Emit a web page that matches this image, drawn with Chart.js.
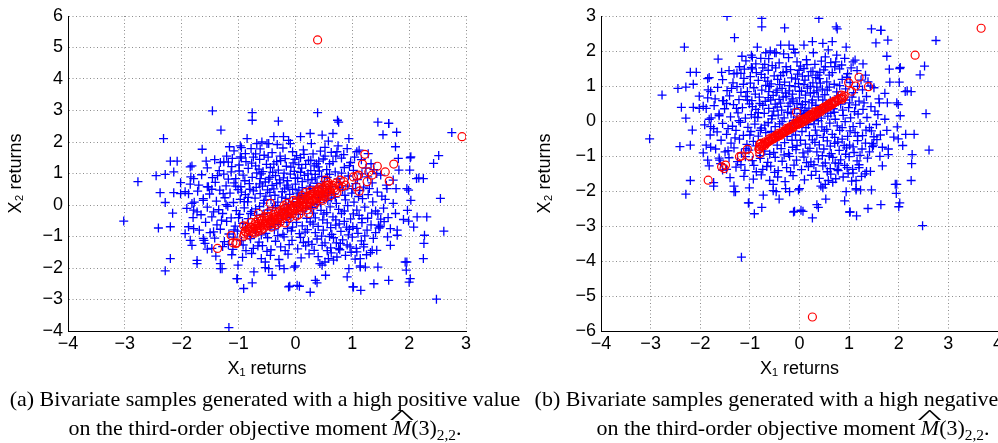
<!DOCTYPE html>
<html>
<head>
<meta charset="utf-8">
<script src="https://cdn.jsdelivr.net/npm/chart.js@4"></script>
<style>
  html, body { margin: 0; padding: 0; background: #fff; }
  body { width: 998px; height: 443px; overflow: hidden; position: relative; }
  canvas { position: absolute; top: 0; }
  #chartA { left: 0; }
  #chartB { left: 500px; }
  .caption {
    position: absolute; top: 384px; transform: translateX(-50%);
    font-family: "Liberation Serif", "Times New Roman", serif; font-size: 22px;
    line-height: 29px; text-align: center; white-space: nowrap; color: #000;
  }
  .mh { position: relative; font-style: italic; }
  .mh .hat { position: absolute; left: 0; right: 0; top: -0.6em; text-align: center; font-style: normal; transform: scaleX(2.4); }
  .caption sub { font-size: 0.7em; vertical-align: -0.3em; line-height: 0; }
</style>
</head>
<body>
<canvas id="chartA" width="490" height="400"></canvas>
<canvas id="chartB" width="520" height="400"></canvas>
<div class="caption" style="left:265px">(a) Bivariate samples generated with a high positive value<br>on the third-order objective moment <span class="mh">M<span class="hat">^</span></span>(3)<sub>2,2</sub>.</div>
<div class="caption" style="left:793px">(b) Bivariate samples generated with a high negative value<br>on the third-order objective moment <span class="mh">M<span class="hat">^</span></span>(3)<sub>2,2</sub>.</div>
<script>
// blue samples (same cloud in both panels)
const bluePoints = [
  // outer ring
  [-1.46,2.99],[-0.76,2.93],[-0.76,2.69],[0.39,2.93],[-0.30,2.66],[-1.31,2.38],[-2.32,2.11],[0.74,2.69],[0.76,2.63],[1.45,2.63],
  [1.64,2.59],[1.54,2.23],[1.78,2.31],[2.75,2.30],[2.52,1.57],[2.43,1.32],[2.03,1.53],[2.01,1.11],[2.13,0.84],[2.25,0.84],
  [2.55,0.21],[2.61,-0.83],[2.25,-1.70],[2.26,-1.22],[2.27,-0.96],[2.14,-0.38],[2.31,-0.38],[1.93,-1.81],[1.95,-2.07],[2.0,-2.45],
  [2.48,-2.99],[1.45,-1.97],[1.38,-2.50],[1.15,-2.71],[1.01,-2.60],[0.94,-2.02],[0.91,-2.28],[0.53,-2.23],[0.47,-1.91],[0.38,-2.47],
  [0.26,-2.77],[0.07,-2.58],[-0.10,-2.58],[0.0,-1.93],[-0.20,-2.02],[-0.28,-1.93],[-0.53,-1.99],[-0.73,-2.12],[-0.76,-2.47],[-0.91,-2.65],
  [-1.02,-2.34],[-1.01,-1.91],[-1.17,-3.89],[-1.32,-2.02],[-1.32,-1.86],[-1.73,-1.76],[-1.73,-1.86],[-2.20,-1.70],[-2.29,-2.09],[-3.02,-0.51],
  [-2.77,0.74],[-2.41,-0.73],[-2.20,-0.69],[-2.16,-0.26],[-2.29,0.08],[-2.38,0.39],[-2.14,0.39],[-2.45,0.93],[-2.29,0.97],[-2.20,1.39],
  [-2.08,1.39],[-2.14,1.05],[-2.02,0.71],[-1.84,0.89],[-1.82,1.24],[-1.64,1.77],[-1.57,1.39],[-1.32,1.35],[-1.16,1.85],[-0.97,1.88],
  [-0.85,2.11],[-0.68,1.95],[-0.50,1.95],[-0.38,2.17],[-0.21,2.17],[-0.09,1.95],[0.09,2.17],[0.26,2.27],[0.47,2.22],[0.66,2.27],
  [0.94,2.11],[0.91,1.79],[0.73,1.69],[1.08,1.69],[1.76,1.85],[1.81,1.48],[1.43,1.0],[1.72,0.79],[1.82,1.11],[1.77,0.52],
  [1.61,0.52],[1.99,0.47],[2.03,0.15],[1.97,-0.17],[1.90,-0.46],[2.08,-0.70],[1.79,-0.96],[1.67,-0.75],[1.49,-0.69],[1.43,-1.44],
  [1.32,-1.51],[1.14,-1.93],[1.14,-1.97],[1.20,-1.33],[0.96,-1.33],[0.79,-1.22],[0.58,-1.70],[0.73,-1.65],[-2.02,0.36],[-1.88,0.36],
  [-1.82,0.05],[-1.91,-0.11],[-1.94,-0.91],[-1.85,-1.12],[-1.82,-1.28],[-1.61,-1.12],[-1.47,-1.38],[-0.59,2.0],[-0.47,1.95],[-1.11,1.48],
  [-0.97,1.53],[-1.26,1.37],[-1.85,1.21],[-1.79,0.84],[-1.94,0.42],[-1.70,0.63],[-1.53,0.58],[-1.62,0.15],[-1.79,-0.16],[-1.73,-0.22],
  [-1.88,-0.69],[-1.79,-0.75],[-1.62,-1.06],[-1.59,-1.22],[-1.44,-0.85],[-1.29,-2.02],[-1.03,-2.34],[-0.53,-1.81],[-0.47,-2.02],[-0.41,-2.23],
  [-0.12,-2.6],[0.03,-2.55],[-0.02,-1.97],[0.35,-2.39],[0.43,-1.86],[0.52,-1.81],[0.67,-1.75],[0.76,-1.38],[1.08,-1.49],[1.14,-1.70],
  [1.23,-1.97],[1.02,-2.6],[1.64,-2.39],[1.96,-1.81],[2.02,-2.34],[1.62,-1.01],[1.67,-1.28],[1.35,-1.44],[1.76,-0.27],[1.99,-0.51],
  [1.79,-0.80],[1.46,-0.64],[1.96,0.52],[2.17,0.86],[2.02,1.50],[1.64,2.59],
  // core
  [-1.08,1.72],[-0.88,1.63],[-0.62,1.78],[-0.41,1.66],[-0.22,1.81],[-0.05,1.69],[0.14,1.75],[0.31,1.62],[0.52,1.83],[0.63,1.67],
  [0.85,1.6],[1.12,1.74],[1.28,1.63],[-0.55,1.58],[0.02,1.57],[0.44,1.71],
  [-1.42,1.44],[-1.18,1.36],[-0.95,1.49],[-0.77,1.33],[-0.63,1.45],[-0.48,1.52],[-0.33,1.38],[-0.18,1.47],[-0.04,1.34],[0.09,1.5],
  [0.23,1.41],[0.37,1.31],[0.49,1.46],[0.66,1.38],[0.81,1.49],[0.97,1.35],[1.16,1.44],[1.33,1.31],[-0.87,1.38],[0.18,1.29],[-0.27,1.55],
  [-1.55,1.18],[-1.34,1.09],[-1.12,1.22],[-0.99,1.08],[-0.83,1.16],[-0.7,1.24],[-0.57,1.06],[-0.44,1.19],[-0.3,1.11],[-0.16,1.23],
  [-0.02,1.07],[0.11,1.17],[0.27,1.09],[0.4,1.21],[0.55,1.12],[0.7,1.05],[0.86,1.19],[1.02,1.1],[1.24,1.17],[-0.64,1.14],[0.33,1.24],[-0.08,1.2],
  [-1.65,0.96],[-1.46,0.87],[-1.26,0.98],[-1.05,0.84],[-0.92,0.95],[-0.76,0.88],[-0.6,0.99],[-0.47,0.82],[-0.35,0.93],[-0.21,0.86],
  [-0.09,0.98],[0.04,0.85],[0.16,0.94],[0.29,0.81],[0.46,0.91],[0.6,0.97],[0.75,0.83],[0.93,0.92],[1.09,0.81],[1.27,0.89],[1.5,0.95],
  [-1.18,0.82],[-0.28,0.8],[0.22,0.99],
  [-1.85,0.66],[-1.41,0.72],[-1.22,0.61],[-1.08,0.7],[-0.96,0.58],[-0.81,0.68],[-0.69,0.56],[-0.53,0.73],[-0.41,0.62],[-0.27,0.7],
  [-0.13,0.57],[0.0,0.66],[0.12,0.74],[0.26,0.6],[0.38,0.69],[0.62,0.58],[0.78,0.72],[0.92,0.6],[1.06,0.68],[1.2,0.57],[1.35,0.7],
  [1.6,0.63],[-1.55,0.58],[-0.58,0.6],[0.51,0.75],
  [-1.72,0.44],[-1.51,0.35],[-1.33,0.47],[-1.15,0.38],[-1.01,0.49],[-0.88,0.33],[-0.74,0.45],[-0.62,0.36],[-0.49,0.48],[-0.36,0.31],
  [-0.23,0.42],[-0.1,0.34],[0.06,0.47],[0.19,0.37],[0.33,0.45],[0.68,0.35],[0.83,0.48],[0.99,0.38],[1.13,0.46],[1.28,0.33],[1.44,0.41],
  [-0.95,0.41],[0.11,0.3],
  [-1.62,0.2],[-1.39,0.12],[-1.24,0.23],[-1.09,0.08],[-0.97,0.18],[-0.84,0.1],[-0.71,0.22],[-0.56,0.06],[-0.43,0.17],[-0.31,0.09],
  [-0.17,0.21],[-0.05,0.11],[0.08,0.19],[0.2,0.07],[0.41,0.23],[0.57,0.14],[0.72,0.05],[0.88,0.16],[1.03,0.09],[1.18,0.2],[1.36,0.1],
  [1.58,0.18],[1.72,0.05],[-1.78,0.09],
  [-1.55,-0.07],[-1.35,-0.15],[-1.19,-0.04],[-1.04,-0.18],[-0.9,-0.09],[-0.77,-0.2],[-0.63,-0.05],[-0.49,-0.16],[-0.2,-0.12],[0.02,-0.03],
  [0.13,-0.19],[0.29,-0.08],[0.45,-0.17],[0.61,-0.06],[0.76,-0.14],[0.92,-0.02],[1.08,-0.16],[1.22,-0.07],[1.41,-0.19],[1.55,-0.1],[-0.35,-0.02],
  [-1.66,-0.31],[-1.47,-0.38],[-1.28,-0.27],[-1.13,-0.41],[-0.98,-0.3],[-0.83,-0.43],[-0.68,-0.33],[-0.08,-0.4],[0.05,-0.3],[0.35,-0.41],
  [0.5,-0.29],[0.66,-0.38],[0.81,-0.27],[0.97,-0.44],[1.12,-0.33],[1.27,-0.42],[1.45,-0.28],[1.63,-0.4],[-1.8,-0.4],[-0.25,-0.44],
  [-1.58,-0.55],[-1.38,-0.63],[-1.21,-0.52],[-1.06,-0.67],[-0.93,-0.58],[-0.45,-0.69],[-0.3,-0.62],[0.12,-0.66],[0.26,-0.54],[0.4,-0.68],
  [0.56,-0.57],[0.71,-0.64],[0.86,-0.52],[1.01,-0.69],[1.17,-0.56],[1.33,-0.63],[1.56,-0.53],[-0.05,-0.7],[-0.6,-0.95],
  [-1.69,-0.8],[-1.5,-0.88],[-1.32,-0.77],[-1.17,-0.92],[-1.02,-0.83],[-0.52,-0.9],[-0.37,-0.79],[-0.22,-0.93],[-0.07,-0.82],[0.07,-0.91],
  [0.21,-0.78],[0.35,-0.88],[0.49,-0.8],[0.64,-0.93],[0.8,-0.84],[0.95,-0.77],[1.1,-0.9],[1.26,-0.8],[1.41,-0.88],[-0.8,-0.99],
  [-1.42,-1.05],[-1.25,-1.16],[-1.09,-1.02],[-0.95,-1.13],[-0.79,-1.07],[-0.64,-1.18],[-0.49,-1.04],[-0.35,-1.15],[-0.2,-1.01],[-0.06,-1.12],
  [0.09,-1.03],[0.23,-1.17],[0.38,-1.08],[0.52,-1.2],[0.67,-1.04],[0.83,-1.11],[1.0,-1.02],[1.16,-1.14],[1.37,-1.06],
  [-1.28,-1.32],[-1.1,-1.41],[-0.92,-1.27],[-0.74,-1.38],[-0.58,-1.29],[-0.43,-1.42],[-0.26,-1.33],[-0.11,-1.26],[0.04,-1.39],[0.18,-1.3],
  [0.33,-1.44],[0.47,-1.28],[0.62,-1.36],[0.78,-1.42],[0.91,-1.27],[1.07,-1.38],[-1.55,-1.4],
  [-1.12,-1.58],[-0.93,-1.66],[-0.77,-1.54],[-0.6,-1.7],[-0.44,-1.6],[-0.29,-1.73],[-0.13,-1.56],[0.1,-1.68],[0.24,-1.55],[0.4,-1.64],
  [0.63,-1.52],[0.88,-1.6],[1.05,-1.72],[1.25,-1.58],[-1.4,-1.62],
  [-0.52,0.28],[-0.38,0.51],[-0.15,0.63],[0.03,0.38],[0.25,0.52],[0.44,0.08],[0.58,0.4],[-0.29,-0.25],[-0.12,0.02],[0.15,0.25],
  [0.32,-0.26],[0.7,0.25],[-0.7,-0.12],[-0.45,0.88],[-0.2,1.01],[0.06,1.28],[0.35,0.97],[0.6,1.31],[0.95,1.25],[-0.8,0.5],
  [-0.62,0.84],[0.78,0.55],[1.01,0.52],[0.48,-0.47],[0.2,-0.42],[-0.15,-0.55],[-0.42,-0.45],[0.9,-0.7],[0.6,-1.0],[-0.05,0.5],
  [0.27,1.42],[-0.38,1.3],[0.52,1.55],[-0.7,1.62],[-0.95,1.82],[0.75,1.88],[-0.32,1.92],[0.28,1.95],
  [-1.21,1.55],[-0.99,1.27],[-0.74,1.52],[-0.51,1.29],[-0.26,1.41],[-0.01,1.45],[0.15,1.61],[0.41,1.39],[0.71,1.55],[1.04,1.52],
  [-1.37,0.93],[-1.13,1.05],[-0.89,0.77],[-0.68,1.02],[-0.4,1.04],[-0.14,0.77],[0.09,1.04],[0.35,0.86],[0.56,0.88],[0.81,1.01],
  [1.17,0.99],[1.38,1.12],[-1.47,0.5],[-1.27,0.36],[-1.05,0.6],[-0.83,0.24],[-0.63,0.67],[-0.45,0.4],[-0.19,0.51],[0.03,0.22],
  [0.22,0.8],[0.47,0.6],[0.63,0.22],[0.87,0.31],[1.11,0.27],[1.3,0.52],[1.52,0.28],[-1.44,-0.22],[-1.22,0.01],[-1.0,-0.4],
  [-0.79,-0.27],[-0.57,-0.3],[-0.4,-0.08],[-0.13,-0.28],[0.18,-0.1],[0.38,0.01],[0.55,-0.24],[0.71,-0.47],[0.86,-0.19],[1.02,-0.28],
  [1.17,-0.43],[1.34,-0.26],[1.5,-0.45],[-1.3,-0.48],[-1.08,-0.79],[-0.88,-0.71],[-0.7,-0.86],[-0.31,-0.97],[-0.14,-0.75],[0.02,-0.55],
  [0.17,-0.86],[0.31,-0.61],[0.46,-0.99],[0.62,-0.72],[0.77,-0.6],[0.93,-0.95],[1.08,-0.74],[1.22,-0.98],[1.47,-0.73],[-1.18,-1.25],
  [-0.87,-1.45],[-0.66,-1.3],[-0.5,-1.47],[-0.18,-1.45],[0.14,-1.19],[0.29,-1.25],[0.56,-1.45],[0.72,-1.2],[0.98,-1.5],[1.2,-1.25],
  [-0.9,0.11],[-0.55,0.15],[-0.24,0.25],[0.12,0.55],[0.3,0.05],[0.52,0.3],[-0.33,0.68],[0.0,0.85],[0.42,1.08],[-0.78,1.79],
  [0.58,2.03],[-0.12,2.05]
];

// red samples, panel (a): high positive moment
const redPointsA = [
  [0.39,5.24],[2.93,2.17],[-1.37,-1.38],[-1.13,-0.97],[-1.1,-1.2],[-1.05,-1.22],[-1.03,-1.2],[-0.91,-0.66],[-0.88,-0.83],[-0.91,-0.99],
  [1.22,1.61],[1.18,1.3],[1.73,1.3],[1.44,1.23],[1.58,1.05],[1.29,1.05],[1.35,0.95],[1.26,0.74],[1.65,0.76],[1.12,0.44],
  [1.07,0.58],[1.02,0.89],[1.08,0.92],[1.11,0.95],[0.88,0.63],[0.73,0.39],[0.79,0.79],[0.85,0.74],[0.53,0.79],[0.47,0.52],
  [0.23,-0.27],[-0.18,-0.57],[-0.44,0.05],[-0.65,-0.27],[-0.68,-0.8],
  [-0.88,-0.86],[-0.84,-0.78],[-0.8,-0.83],[-0.77,-0.71],[-0.73,-0.76],[-0.7,-0.68],[-0.67,-0.74],[-0.64,-0.6],[-0.61,-0.66],[-0.58,-0.58],
  [-0.55,-0.63],[-0.52,-0.5],[-0.49,-0.56],[-0.46,-0.45],[-0.43,-0.52],[-0.4,-0.41],[-0.37,-0.47],[-0.34,-0.36],[-0.31,-0.42],[-0.28,-0.31],
  [-0.25,-0.37],[-0.22,-0.24],[-0.19,-0.3],[-0.16,-0.19],[-0.13,-0.25],[-0.1,-0.12],[-0.07,-0.19],[-0.04,-0.08],[-0.01,-0.13],[0.02,-0.02],
  [0.05,-0.08],[0.08,0.05],[0.11,-0.01],[0.14,0.1],[0.17,0.04],[0.2,0.16],[0.23,0.1],[0.26,0.21],[0.29,0.15],[0.32,0.28],
  [0.35,0.22],[0.38,0.33],[0.41,0.27],[0.44,0.39],[0.47,0.35],[0.5,0.46],[0.53,0.4],[0.56,0.52],[0.6,0.47],[0.64,0.58],
  [0.68,0.53],[-0.6,-0.5],[-0.3,-0.22],[0.0,0.06],[0.3,0.35],[-0.45,-0.6],[-0.15,-0.33],[0.15,-0.06],[0.45,0.2],[-0.7,-0.55],
  [0.1,0.15],[-0.2,-0.12],[0.55,0.62],[-0.86,-0.7],[0.25,0.3],[-0.5,-0.38],[0.38,0.48],
  [-0.83,-0.95],[-0.79,-0.7],[-0.75,-0.86],[-0.71,-0.62],[-0.66,-0.84],[-0.62,-0.72],[-0.59,-0.48],[-0.56,-0.74],[-0.53,-0.6],[-0.5,-0.66],
  [-0.47,-0.36],[-0.44,-0.62],[-0.41,-0.5],[-0.38,-0.3],[-0.35,-0.55],[-0.32,-0.46],[-0.29,-0.4],[-0.26,-0.18],[-0.23,-0.42],[-0.2,-0.28],
  [-0.17,-0.08],[-0.14,-0.35],[-0.11,-0.22],[-0.08,-0.02],[-0.05,-0.27],[-0.02,-0.04],[0.01,0.1],[0.04,-0.16],[0.07,-0.05],[0.1,0.2],
  [0.13,-0.04],[0.16,0.18],[0.19,0.0],[0.22,0.28],[0.25,0.07],[0.28,0.33],[0.31,0.12],[0.34,0.4],[0.37,0.2],[0.4,0.43],
  [0.43,0.28],[0.46,0.5],[0.49,0.3],[0.52,0.58],[0.55,0.4],[0.58,0.64],[0.62,0.42],[0.66,0.62],[0.7,0.46],[-0.9,-0.92],
  [0.76,0.63],[0.82,0.58],
  [-0.78,-0.55],[-0.72,-0.9],[-0.6,-0.8],[-0.55,-0.38],[-0.42,-0.7],[-0.36,-0.22],[-0.27,-0.55],[-0.2,-0.02],[-0.1,-0.4],[-0.03,0.15],
  [0.06,-0.3],[0.12,0.3],[0.2,-0.15],[0.27,0.45],[0.33,0.0],[0.42,0.55],[0.48,0.15],[0.57,0.72],[0.62,0.3],[0.72,0.7],
  [-0.65,-0.45],[-0.48,-0.25],[-0.33,-0.62],[-0.15,0.05],[0.02,-0.35],[0.18,0.4],[0.36,0.08],[0.52,0.25]
];

// red samples, panel (b): high negative moment
const redPointsB = [
  [3.66,2.65],[2.33,1.88],[0.26,-5.6],[-1.84,-1.69],[-1.57,-1.31],[-1.52,-1.36],[-1.49,-1.26],[-1.21,-1.02],[-1.17,-1.0],[-1.05,-0.81],
  [-1.01,-1.0],[-0.81,-0.81],[-0.8,-0.93],[-0.8,-0.67],[0.99,1.09],[1.13,1.0],[1.2,1.25],[1.39,0.98],[0.88,0.67],[0.84,0.74],[1.05,0.85],
  [-0.8,-0.74],[-0.76,-0.72],[-0.72,-0.66],[-0.68,-0.65],[-0.64,-0.6],[-0.6,-0.57],[-0.56,-0.53],[-0.52,-0.51],[-0.48,-0.46],[-0.44,-0.44],
  [-0.4,-0.39],[-0.36,-0.37],[-0.32,-0.32],[-0.28,-0.3],[-0.24,-0.25],[-0.2,-0.24],[-0.16,-0.18],[-0.12,-0.17],[-0.08,-0.11],[-0.04,-0.1],
  [0.0,-0.04],[0.04,-0.04],[0.08,0.03],[0.12,0.03],[0.16,0.1],[0.2,0.1],[0.24,0.17],[0.28,0.16],[0.32,0.24],[0.36,0.23],
  [0.4,0.3],[0.44,0.3],[0.48,0.37],[0.52,0.37],[0.56,0.43],[0.6,0.44],[0.64,0.5],[0.68,0.5],[0.72,0.56],[0.78,0.6],
  [0.84,0.65],[-0.7,-0.7],[-0.5,-0.44],[-0.3,-0.29],[-0.1,-0.07],[0.1,0.07],[0.3,0.2],[0.5,0.4],[0.7,0.53],[-0.62,-0.52],
  [-0.42,-0.4],[-0.22,-0.2],[-0.02,-0.06],[0.18,0.14],[0.38,0.27],[0.58,0.47],[-0.06,0.25],
  [-0.82,-0.8],[-0.78,-0.64],[-0.74,-0.7],[-0.7,-0.6],[-0.66,-0.62],[-0.62,-0.58],[-0.58,-0.49],[-0.54,-0.5],[-0.5,-0.48],[-0.46,-0.4],
  [-0.42,-0.35],[-0.38,-0.41],[-0.34,-0.3],[-0.3,-0.32],[-0.26,-0.21],[-0.22,-0.26],[-0.18,-0.16],[-0.14,-0.2],[-0.1,-0.12],[-0.06,-0.06],
  [-0.02,-0.01],[0.02,-0.07],[0.06,0.04],[0.1,-0.01],[0.14,0.08],[0.18,0.06],[0.22,0.18],[0.26,0.12],[0.3,0.26],[0.34,0.19],
  [0.38,0.3],[0.42,0.26],[0.46,0.36],[0.5,0.34],[0.54,0.42],[0.58,0.4],[0.62,0.51],[0.66,0.47],[0.7,0.57],[0.74,0.55],
  [0.8,0.64],[0.86,0.62],[0.9,0.72]
];

const xTitle = 'X\u2081 returns';
const yTitle = 'X\u2082 returns';

const toXY = pts => pts.map(p => ({ x: p[0], y: p[1] }));
const minus = v => String(v).replace('-', '\u2212');

function makeChart(id, redPts, xMax, yMin, yMax, yAxisWidth, yTitlePad) {
  const ctx = document.getElementById(id);
  new Chart(ctx, {
    type: 'scatter',
    data: {
      datasets: [
        {
          data: toXY(redPts),
          pointStyle: 'circle',
          pointRadius: 4,
          borderWidth: 1.2,
          borderColor: '#ff0000',
          backgroundColor: 'rgba(0,0,0,0)',
          order: 0
        },
        {
          data: toXY(bluePoints),
          pointStyle: 'cross',
          pointRadius: 4.5,
          borderWidth: 1.3,
          borderColor: '#0000ff',
          backgroundColor: '#0000ff',
          order: 1
        }
      ]
    },
    options: {
      responsive: false,
      animation: false,
      events: [],
      layout: { padding: { top: 16, right: id === 'chartA' ? 24 : 22, left: 0, bottom: 0 } },
      plugins: { legend: { display: false }, tooltip: { enabled: false } },
      scales: {
        x: {
          type: 'linear', min: -4, max: xMax,
          afterFit: s => { s.height = 69; },
          ticks: { stepSize: 1, padding: 2, color: '#000', font: { family: 'Liberation Sans', size: 18 }, callback: minus },
          grid: { color: '#8c8c8c', lineWidth: 1, drawTicks: false },
          border: { color: '#000', width: 1, dash: [1, 2.5] },
          title: { display: true, text: xTitle, color: '#000', font: { family: 'Liberation Sans', size: 18 }, padding: { bottom: 20 } }
        },
        y: {
          type: 'linear', min: yMin, max: yMax,
          afterFit: s => { s.width = yAxisWidth; },
          ticks: { stepSize: 1, padding: 5, color: '#000', font: { family: 'Liberation Sans', size: 18 }, callback: minus },
          grid: { color: '#8c8c8c', lineWidth: 1, drawTicks: false },
          border: { color: '#000', width: 1, dash: [1, 2.5] },
          title: { display: true, text: yTitle, color: '#000', font: { family: 'Liberation Sans', size: 18 }, padding: { top: yTitlePad } }
        }
      }
    }
  });
}

makeChart('chartA', redPointsA, 3, -4, 6, 68, 5);
makeChart('chartB', redPointsB, 4, -6, 3, 101, 34);
</script>
</body>
</html>
